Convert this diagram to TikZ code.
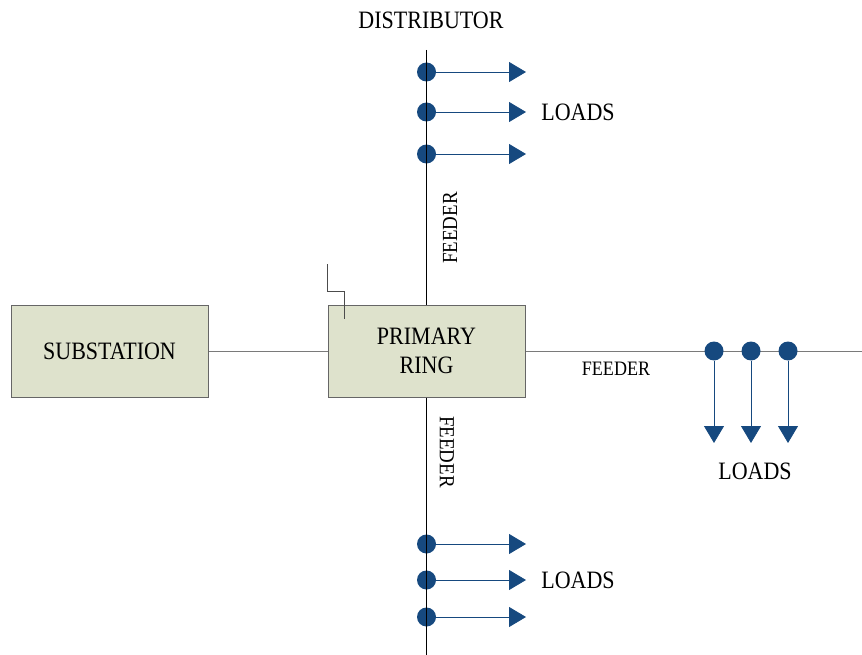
\documentclass[tikz,border=0pt]{standalone}
\usepackage{fontspec}
\setmainfont[FakeStretch=0.88]{Liberation Serif}
\usetikzlibrary{arrows.meta}
\definecolor{boxfill}{HTML}{DEE2CC}
\definecolor{boxedge}{HTML}{666666}
\definecolor{tapblue}{HTML}{16497F}
\definecolor{busgray}{HTML}{7A7A7A}

\begin{document}
\begin{tikzpicture}[x=1pt,y=-1pt,
  block/.style={draw=boxedge,fill=boxfill,line width=1pt,minimum width=197pt,
    minimum height=92pt,inner sep=0pt,align=center,
    font=\fontsize{25}{29}\selectfont},
  tap/.style={circle,fill=tapblue,inner sep=0pt,minimum size=19pt},
  feed/.style={line width=0.8pt,draw=tapblue,
    -{Triangle[length=17pt,width=20pt]}},
  lbl/.style={font=\fontsize{25}{29}\selectfont,inner sep=0pt},
  bus/.style={line width=0.8pt,draw=busgray},
  trunk/.style={line width=0.8pt,draw=black}]
\useasboundingbox (0,0) rectangle (862,655);

% main blocks
\node[block] (sub) at (109.5,351) {SUBSTATION};
\node[block] (ring) at (426.5,351) {PRIMARY\\RING};

% open-point mark on the ring
\draw[line width=0.8pt,draw=black!70] (327.5,264) |- (344,291) -- (344,319);

% substation supply and east feeder
\draw[bus] (sub.east) -- (ring.west);
\coordinate (eastend) at (862,351);
\draw[bus] (ring.east) -- (eastend);

% east feeder taps
\foreach \i/\x in {1/714,2/751,3/788}{
  \node[tap] (e\i) at (\x,351) {};
  \coordinate (ee\i) at (\x,443);
  \draw[feed] (e\i) -- (ee\i);
}

% north distributor taps
\foreach \i/\y in {1/72,2/112,3/154}{
  \node[tap] (n\i) at (426.5,\y) {};
  \coordinate (ne\i) at (526,\y);
  \draw[feed] (n\i) -- (ne\i);
}

% south distributor taps
\foreach \i/\y in {1/544,2/580,3/617}{
  \node[tap] (s\i) at (426.5,\y) {};
  \coordinate (se\i) at (526,\y);
  \draw[feed] (s\i) -- (se\i);
}

% vertical feeders
\coordinate (ntop) at (426.5,50);
\coordinate (sbot) at (426.5,655);
\draw[trunk] (ntop) -- (ring.north);
\draw[trunk] (ring.south) -- (sbot);

% labels
\node[lbl] (dist) at (431,20) {DISTRIBUTOR};
\node[lbl] (ldn) at (578,112) {LOADS};
\node[lbl] (lds) at (578,580) {LOADS};
\node[lbl] (lde) at (755,471) {LOADS};
\node[lbl,rotate=90,font=\fontsize{21.5}{26}\selectfont] (fn) at (450,228) {FEEDER};
\node[lbl,rotate=-90,font=\fontsize{21.5}{26}\selectfont] (fs) at (447,452) {FEEDER};
\node[lbl,font=\fontsize{20.5}{26}\selectfont] (fe) at (616,369) {FEEDER};
\end{tikzpicture}
\end{document}
